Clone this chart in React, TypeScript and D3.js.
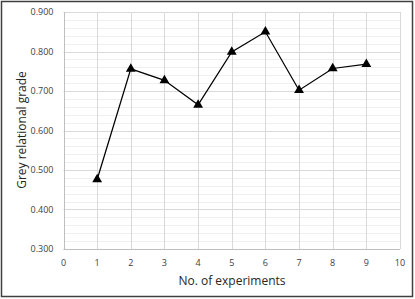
import React, { useEffect, useRef } from 'react';
import * as d3 from 'd3';

const experiments = [1, 2, 3, 4, 5, 6, 7, 8, 9];
const greyGrade = [0.476, 0.756, 0.727, 0.665, 0.799, 0.850, 0.702, 0.757, 0.768];
const xTicks = [0, 1, 2, 3, 4, 5, 6, 7, 8, 9, 10];
const yTicks = [0.3, 0.4, 0.5, 0.6, 0.7, 0.8, 0.9];
const yMinorTicks = d3.range(0.3, 0.9001, 0.02);

const App = () => {
  const svgRef = useRef<SVGSVGElement>(null);

  useEffect(() => {
    const svg = d3.select(svgRef.current);
    svg.selectAll('*').remove();

    const width = 415;
    const height = 299;
    const font = '"Open Sans", "Liberation Sans", sans-serif';

    const x = d3.scaleLinear().domain([0, 10]).range([63.5, 400]);
    const y = d3.scaleLinear().domain([0.3, 0.9]).range([249, 12]);

    svg.attr('width', width).attr('height', height);

    svg.append('rect')
      .attr('width', width)
      .attr('height', height)
      .attr('fill', '#fff');

    // outer frame
    svg.append('rect')
      .attr('x', 1.5)
      .attr('y', 1.5)
      .attr('width', 411)
      .attr('height', 295)
      .attr('fill', 'none')
      .attr('stroke', '#404040')
      .attr('stroke-width', 1.5);

    // minor gridlines
    svg.append('g')
      .selectAll('line')
      .data(yMinorTicks)
      .join('line')
      .attr('x1', x(0))
      .attr('x2', x(10))
      .attr('y1', d => Math.round(y(d)) + 0.5)
      .attr('y2', d => Math.round(y(d)) + 0.5)
      .attr('stroke', '#efefef')
      .attr('stroke-width', 1);

    // major gridlines
    svg.append('g')
      .selectAll('line')
      .data(yTicks.slice(1))
      .join('line')
      .attr('x1', x(0))
      .attr('x2', x(10))
      .attr('y1', d => Math.round(y(d)) + 0.5)
      .attr('y2', d => Math.round(y(d)) + 0.5)
      .attr('stroke', '#d9d9d9')
      .attr('stroke-width', 1);

    svg.append('g')
      .selectAll('line')
      .data(xTicks.slice(1))
      .join('line')
      .attr('x1', d => Math.round(x(d)) + 0.5)
      .attr('x2', d => Math.round(x(d)) + 0.5)
      .attr('y1', y(0.3))
      .attr('y2', y(0.9))
      .attr('stroke', '#d9d9d9')
      .attr('stroke-width', 1);

    // axis lines
    svg.append('line')
      .attr('x1', Math.round(x(0)) + 0.5)
      .attr('x2', Math.round(x(0)) + 0.5)
      .attr('y1', y(0.3))
      .attr('y2', y(0.9))
      .attr('stroke', '#bfbfbf');
    svg.append('line')
      .attr('x1', x(0))
      .attr('x2', x(10))
      .attr('y1', Math.round(y(0.3)) + 0.5)
      .attr('y2', Math.round(y(0.3)) + 0.5)
      .attr('stroke', '#bfbfbf');

    // tick labels
    svg.append('g')
      .selectAll('text')
      .data(yTicks)
      .join('text')
      .attr('x', 53.5)
      .attr('y', d => y(d))
      .attr('dy', '0.35em')
      .attr('text-anchor', 'end')
      .attr('font-family', font)
      .attr('font-size', 9)
      .attr('fill', '#404040')
      .text(d => d3.format('.3f')(d));

    svg.append('g')
      .selectAll('text')
      .data(xTicks)
      .join('text')
      .attr('x', d => x(d))
      .attr('y', 263)
      .attr('dy', '0.35em')
      .attr('text-anchor', 'middle')
      .attr('font-family', font)
      .attr('font-size', 9)
      .attr('fill', '#404040')
      .text(d => d);

    // axis titles
    svg.append('text')
      .attr('x', 232)
      .attr('y', 285)
      .attr('text-anchor', 'middle')
      .attr('font-family', font)
      .attr('font-size', 12)
      .attr('fill', '#262626')
      .text('No. of experiments');

    svg.append('text')
      .attr('transform', 'translate(26,130) rotate(-90)')
      .attr('text-anchor', 'middle')
      .attr('font-family', font)
      .attr('font-size', 12)
      .attr('fill', '#262626')
      .text('Grey relational grade');

    // series
    const points = experiments.map((e, i) => [e, greyGrade[i]] as [number, number]);
    const line = d3.line<[number, number]>()
      .x(d => x(d[0]))
      .y(d => y(d[1]));

    svg.append('path')
      .datum(points)
      .attr('d', line)
      .attr('fill', 'none')
      .attr('stroke', '#000')
      .attr('stroke-width', 1.25);

    const tri = d3.symbol().type(d3.symbolTriangle).size(42);
    svg.append('g')
      .selectAll('path')
      .data(points)
      .join('path')
      .attr('d', tri)
      .attr('transform', d => `translate(${x(d[0])},${y(d[1])})`)
      .attr('fill', '#000');
  }, []);

  return <svg ref={svgRef} style={{ position: 'absolute', left: 0, top: 0 }} />;
};

export default App;
